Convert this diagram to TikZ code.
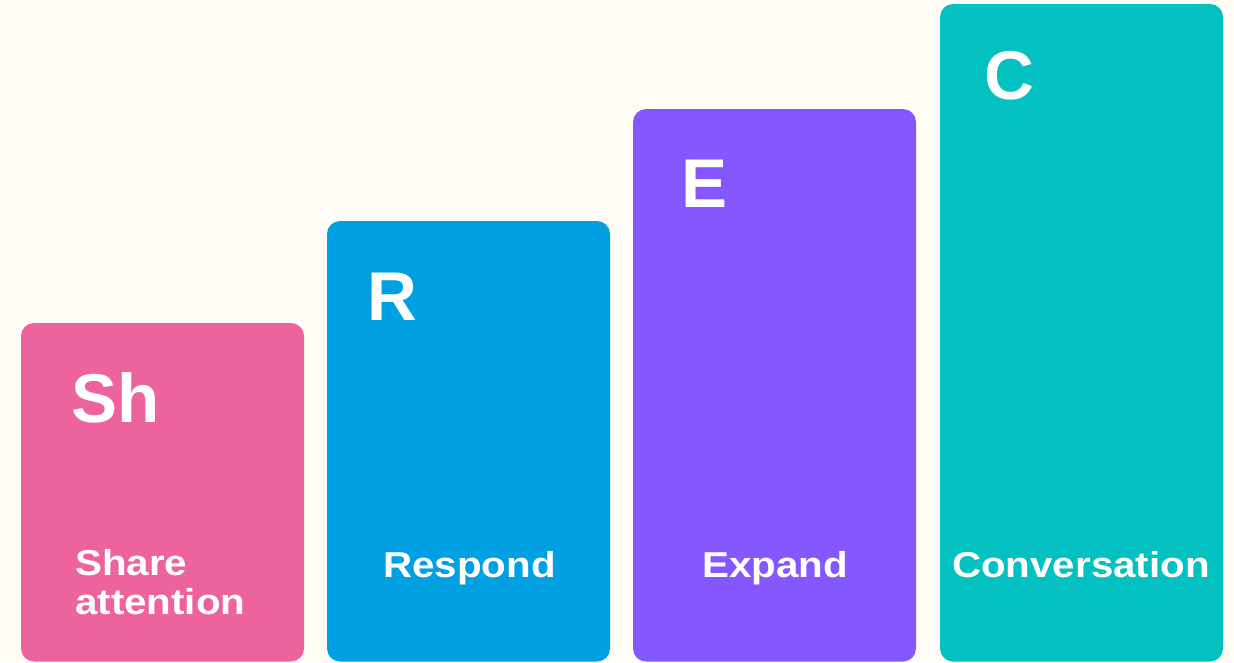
\documentclass[tikz,border=0pt]{standalone}
\usepackage{fontspec}
\setmainfont{Liberation Sans}
\newfontfamily\labelfont{Liberation Sans}[FakeStretch=1.12]
\definecolor{bg}{HTML}{FFFDF5}
\definecolor{pinkbar}{HTML}{EC639E}
\definecolor{bluebar}{HTML}{00A0E3}
\definecolor{purplebar}{HTML}{8457FF}
\definecolor{tealbar}{HTML}{04C1C1}
\begin{document}
\begin{tikzpicture}[x=1pt,y=-1pt,
  bar/.style={rounded corners=13pt},
  initial/.style={anchor=base west, text=white, inner sep=0pt,
    font=\fontsize{69}{69}\selectfont\bfseries},
  barlabel/.style={anchor=base, text=white, inner sep=0pt,
    font=\labelfont\fontsize{36}{39}\selectfont\bfseries}]
\useasboundingbox (0,0) rectangle (1234,662);
\fill[bg] (0,0) rectangle (1234,662);
\fill[pinkbar, bar] (21,323) rectangle (304,661.5);
\fill[bluebar, bar] (327,221) rectangle (610,661.5);
\fill[purplebar, bar] (633,109) rectangle (916,661.5);
\fill[tealbar, bar] (940,4) rectangle (1223,661.5);
\node[initial] (sh) at (71,422) {Sh};
\node[initial] (r) at (367,320) {R};
\node[initial] (e) at (681,207) {E};
\node[initial] (c) at (984,99) {C};
\node[barlabel, anchor=base west, align=left] (share) at (75,614) {Share\\attention};
\node[barlabel] (respond) at (469.5,577) {Respond};
\node[barlabel] (expand) at (775,577) {Expand};
\node[barlabel] (conv) at (1081,577) {Conversation};
\end{tikzpicture}
\end{document}
